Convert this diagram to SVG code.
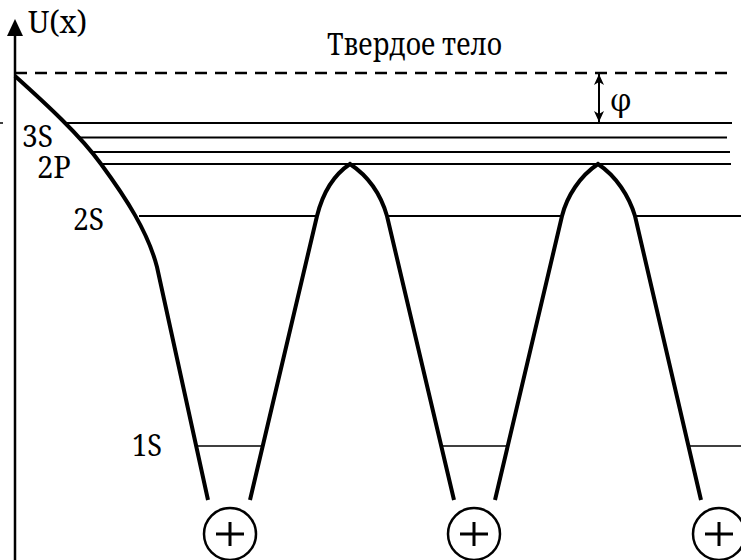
<svg xmlns="http://www.w3.org/2000/svg" width="741" height="560" viewBox="0 0 741 560">
<defs>
<style>
.t{font-family:"Noto Serif","DejaVu Serif",serif;font-size:30px;fill:#000}
.lvl{stroke:#000;stroke-width:2;fill:none}
.thin{stroke:#000;stroke-width:1.5;fill:none}
.curve{stroke:#000;stroke-width:4;fill:none;stroke-linejoin:miter}
.ion{stroke:#000;stroke-width:2.5;fill:#fff}
.plus{stroke:#000;stroke-width:3;fill:none}
</style>
<marker id="ah" viewBox="0 0 11 10" refX="11" refY="5" markerWidth="11" markerHeight="10" orient="auto-start-reverse" markerUnits="userSpaceOnUse">
<path d="M0,0 L11,5 L0,10 L3,5 Z" fill="#000"/>
</marker>
</defs>
<rect width="741" height="560" fill="#fff"/>
<g id="axis">
<line x1="15" y1="32" x2="15" y2="560" stroke="#000" stroke-width="2.5"/>
<polygon points="15,19 7,36 23,36" fill="#000"/>
<line x1="0" y1="123" x2="3" y2="123" stroke="#000" stroke-width="1.5"/>
<text class="t" x="28" y="33" textLength="59" lengthAdjust="spacingAndGlyphs">U(x)</text>
</g>
<g id="solid">
<line x1="15" y1="73" x2="728" y2="73" stroke="#000" stroke-width="2.5" stroke-dasharray="12 8"/>
<text class="t" x="327" y="55" textLength="175" lengthAdjust="spacingAndGlyphs">Твердое тело</text>
</g>
<g id="levels">
<line class="lvl" x1="67" y1="123" x2="732" y2="123"/>
<line class="lvl" x1="80" y1="137.5" x2="727" y2="137.5"/>
<line class="lvl" x1="93" y1="152" x2="730" y2="152"/>
<line class="lvl" x1="101" y1="164" x2="731" y2="164"/>
<line class="lvl" x1="139" y1="216" x2="318" y2="216"/>
<line class="lvl" x1="387" y1="216" x2="562" y2="216"/>
<line class="lvl" x1="635" y1="216" x2="741" y2="216"/>
<line class="thin" x1="197" y1="446" x2="262" y2="446"/>
<line class="thin" x1="442" y1="446" x2="507" y2="446"/>
<line class="thin" x1="689" y1="446" x2="741" y2="446"/>
<text class="t" x="22" y="147" textLength="31" lengthAdjust="spacingAndGlyphs">3S</text>
<text class="t" x="37" y="178" textLength="34" lengthAdjust="spacingAndGlyphs">2P</text>
<text class="t" x="73" y="230" textLength="31" lengthAdjust="spacingAndGlyphs">2S</text>
<text class="t" x="132" y="456" textLength="30" lengthAdjust="spacingAndGlyphs">1S</text>
</g>
<g id="work-function">
<line x1="599" y1="74" x2="599" y2="122" stroke="#000" stroke-width="2" marker-start="url(#ah)" marker-end="url(#ah)"/>
<text class="t" x="610" y="111">φ</text>
</g>
<g id="potential">
<path class="curve" d="M15,76 C45,103 80,135 101,164 C126,198 148,232 157,267 L208,500"/>
<path class="curve" d="M250,500 L317,216 C322,196 332,176 350,164 C368,176 381,195 387,216 L454,500"/>
<path class="curve" d="M495,500 L562,216 C567,196 580,176 598,164 C616,176 629,196 635,216 L701,500"/>
</g>
<g id="ion1">
<circle class="ion" cx="230" cy="534" r="26"/>
<path class="plus" d="M216,534 H244 M230,522 V546"/>
</g>
<g id="ion2">
<circle class="ion" cx="474" cy="534" r="26"/>
<path class="plus" d="M460,534 H488 M474,522 V546"/>
</g>
<g id="ion3">
<circle class="ion" cx="719" cy="534" r="26"/>
<path class="plus" d="M705,534 H733 M719,522 V546"/>
</g>
</svg>
